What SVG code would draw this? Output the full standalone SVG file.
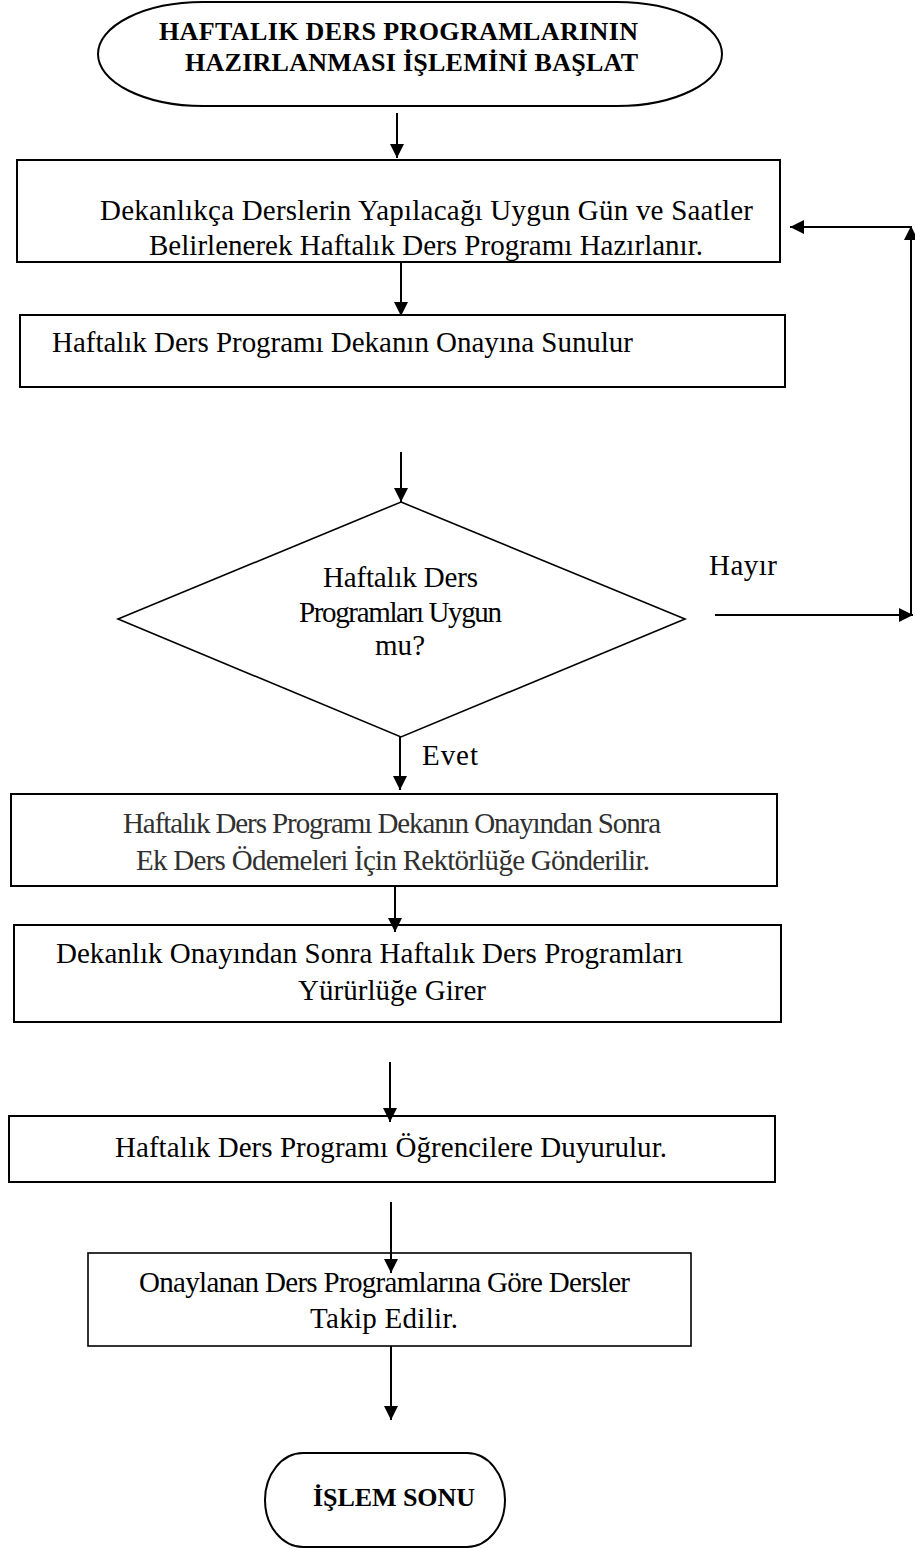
<svg xmlns="http://www.w3.org/2000/svg" width="915" height="1548" viewBox="0 0 915 1548">
  <style>
    .shape { fill: #ffffff; stroke: #000000; stroke-width: 2; }
    .thin { stroke-width: 1.6; }
    .lbl { font-family: "Liberation Serif", "Times New Roman", serif; font-size: 29px; fill: #000000; }
    .hdr { font-family: "Liberation Serif", "Times New Roman", serif; font-size: 26px; font-weight: bold; fill: #000000; }
    .soft { fill: #303030; }
    .edge { fill: none; stroke: #000000; stroke-width: 2; }
  </style>
  <defs>
    <marker id="arrow" viewBox="0 0 14 14" refX="14" refY="7" markerWidth="14" markerHeight="14" markerUnits="userSpaceOnUse" orient="auto">
      <path d="M0,0 L14,7 L0,14 Z" fill="#000000"/>
    </marker>
  </defs>
  <rect width="915" height="1548" fill="#ffffff"/>

  <!-- start terminator -->
  <g id="start">
    <rect class="shape" x="98" y="2" width="624" height="104" rx="105" ry="52"/>
    <text class="hdr" x="159" y="40" textLength="479">HAFTALIK DERS PROGRAMLARININ</text>
    <text class="hdr" x="185" y="71" textLength="453">HAZIRLANMASI İŞLEMİNİ BAŞLAT</text>
  </g>

  <!-- prepare weekly schedule -->
  <g id="prepare">
    <rect class="shape" x="17" y="160" width="763" height="102"/>
    <text class="lbl" x="100" y="220" textLength="653">Dekanlıkça Derslerin Yapılacağı Uygun Gün ve Saatler</text>
    <text class="lbl" x="149" y="255" textLength="554">Belirlenerek Haftalık Ders Programı Hazırlanır.</text>
  </g>

  <!-- submit to dean -->
  <g id="submit">
    <rect class="shape" x="20" y="315" width="765" height="72"/>
    <text class="lbl" x="52" y="352" textLength="581">Haftalık Ders Programı Dekanın Onayına Sunulur</text>
  </g>

  <!-- decision -->
  <g id="decision">
    <polygon class="shape thin" points="401,502 685,619 401,737 118,619"/>
    <text class="lbl" x="323" y="587" textLength="155">Haftalık Ders</text>
    <text class="lbl" x="299" y="622" textLength="203">Programları Uygun</text>
    <text class="lbl" x="375" y="655" textLength="50">mu?</text>
  </g>

  <!-- send to rectorate -->
  <g id="send">
    <rect class="shape" x="11" y="794" width="766" height="92"/>
    <text class="lbl soft" x="123" y="833" textLength="538">Haftalık Ders Programı Dekanın Onayından Sonra</text>
    <text class="lbl soft" x="136" y="870" textLength="514">Ek Ders Ödemeleri İçin Rektörlüğe Gönderilir.</text>
  </g>

  <!-- schedule in effect -->
  <g id="effect">
    <rect class="shape" x="14" y="925" width="767" height="97"/>
    <text class="lbl" x="56" y="963" textLength="627">Dekanlık Onayından Sonra Haftalık Ders Programları</text>
    <text class="lbl" x="298" y="1000" textLength="188">Yürürlüğe Girer</text>
  </g>

  <!-- announce to students -->
  <g id="announce">
    <rect class="shape" x="9" y="1116" width="766" height="66"/>
    <text class="lbl" x="115" y="1157" textLength="552">Haftalık Ders Programı Öğrencilere Duyurulur.</text>
  </g>

  <!-- follow lectures -->
  <g id="follow">
    <rect class="shape thin" x="88" y="1253" width="603" height="93"/>
    <text class="lbl" x="139" y="1292" textLength="491">Onaylanan Ders Programlarına Göre Dersler</text>
    <text class="lbl" x="310" y="1328" textLength="148">Takip Edilir.</text>
  </g>

  <!-- end terminator -->
  <g id="end">
    <rect class="shape" x="265" y="1453" width="240" height="94" rx="38" ry="47"/>
    <text class="hdr" x="313" y="1506" textLength="162">İŞLEM SONU</text>
  </g>

  <!-- connectors -->
  <g id="connectors">
    <line class="edge" x1="397" y1="113" x2="397" y2="158" marker-end="url(#arrow)"/>
    <line class="edge" x1="401" y1="262" x2="401" y2="316" marker-end="url(#arrow)"/>
    <line class="edge" x1="401" y1="452" x2="401" y2="502" marker-end="url(#arrow)"/>
    <line class="edge" x1="400" y1="737" x2="400" y2="790" marker-end="url(#arrow)"/>
    <line class="edge" x1="395" y1="886" x2="395" y2="932" marker-end="url(#arrow)"/>
    <line class="edge" x1="390" y1="1062" x2="390" y2="1122" marker-end="url(#arrow)"/>
    <line class="edge" x1="391" y1="1202" x2="391" y2="1273" marker-end="url(#arrow)"/>
    <line class="edge" x1="391" y1="1346" x2="391" y2="1420" marker-end="url(#arrow)"/>
    <!-- "Hayır" loop back to the preparation step -->
    <line class="edge" x1="715" y1="615" x2="913" y2="615" marker-end="url(#arrow)"/>
    <line class="edge" x1="911" y1="615" x2="911" y2="226" marker-end="url(#arrow)"/>
    <line class="edge" x1="911" y1="227" x2="790" y2="227" marker-end="url(#arrow)"/>
    <text class="lbl" x="709" y="575" textLength="68">Hayır</text>
    <text class="lbl" x="422" y="765" textLength="56">Evet</text>
  </g>
</svg>
